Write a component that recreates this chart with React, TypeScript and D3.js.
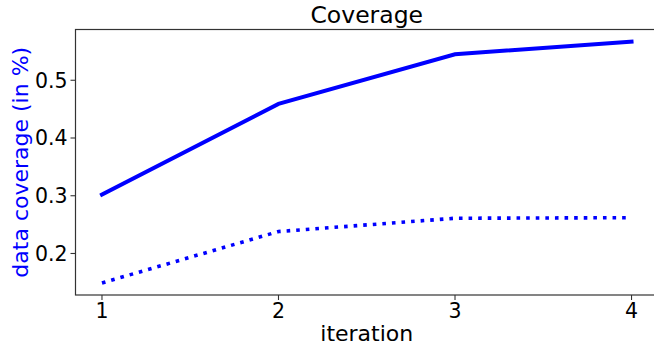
import React from 'react';
import * as d3 from 'd3';

// data
const iterations = [1, 2, 3, 4];
const coverageSolid = [0.302, 0.459, 0.545, 0.567];
const coverageDotted = [0.149, 0.238, 0.261, 0.262];
const xTicks = [1, 2, 3, 4];
const yTicks = [0.2, 0.3, 0.4, 0.5];

const width = 654;
const height = 349;
const margin = { top: 29.5, right: -4, bottom: 54, left: 75.5 };
const font = 'DejaVu Sans, sans-serif';

export default function App() {
  const innerW = width - margin.left - margin.right;
  const innerH = height - margin.top - margin.bottom;

  const xScale = d3.scaleLinear().domain([0.85, 4.15]).range([0, innerW]);
  const allVals = [...coverageSolid, ...coverageDotted];
  const lo = d3.min(allVals) as number;
  const hi = d3.max(allVals) as number;
  const pad = (hi - lo) * 0.05;
  const yScale = d3.scaleLinear().domain([lo - pad, hi + pad]).range([innerH, 0]);

  const lineGen = d3.line<number>()
    .x((_, i) => xScale(iterations[i]))
    .y(d => yScale(d));

  return (
    <svg width={width} height={height} style={{ display: 'block', position: 'absolute', left: 0, top: 0 }}>
      <rect width={width} height={height} fill="#fff" />
      <g transform={`translate(${margin.left},${margin.top})`}>
        <path d={lineGen(coverageSolid) || ''} fill="none" stroke="#0000ff" strokeWidth={4} strokeLinecap="square" />
        <path d={lineGen(coverageDotted) || ''} fill="none" stroke="#0000ff" strokeWidth={3.6} strokeDasharray="3.6,6" />

        {/* frame */}
        <rect x={0} y={0} width={innerW} height={innerH} fill="none" stroke="#333" strokeWidth={1.2} />

        {/* x axis */}
        {xTicks.map(t => (
          <g key={t} transform={`translate(${xScale(t)},${innerH})`}>
            <line y1={0} y2={5} stroke="#333" strokeWidth={1.1} />
            <text y={23} textAnchor="middle" fontFamily={font} fontSize={20.5} fill="#000">{t}</text>
          </g>
        ))}
        {/* y axis */}
        {yTicks.map(t => (
          <g key={t} transform={`translate(0,${yScale(t)})`}>
            <line x1={0} x2={-5} stroke="#333" strokeWidth={1.1} />
            <text x={-8} dy="0.36em" textAnchor="end" fontFamily={font} fontSize={20.5} fill="#000">{t.toFixed(1)}</text>
          </g>
        ))}

        <text x={innerW / 2} y={innerH + 46} textAnchor="middle" fontFamily={font} fontSize={22} fill="#000">iteration</text>
        <text transform={`translate(${-48},${innerH / 2}) rotate(-90)`} textAnchor="middle" fontFamily={font} fontSize={22} fill="#0000ff">data coverage (in %)</text>
        <text x={innerW / 2} y={-6.5} textAnchor="middle" fontFamily={font} fontSize={23.5} fill="#000">Coverage</text>
      </g>
    </svg>
  );
}
